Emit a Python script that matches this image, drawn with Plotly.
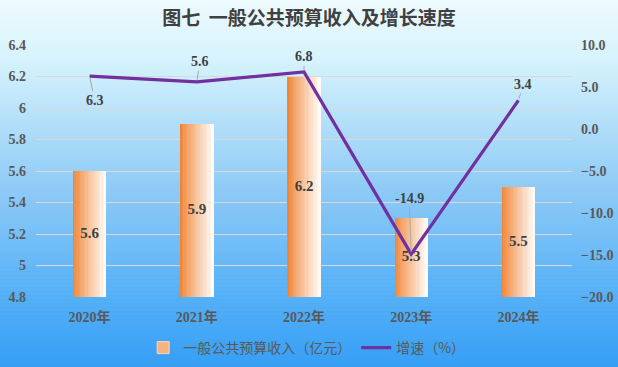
import plotly.graph_objects as go

# ---- data ----
categories = ["2020年", "2021年", "2022年", "2023年", "2024年"]
revenue = [5.6, 5.9, 6.2, 5.3, 5.5]          # 一般公共预算收入（亿元）
growth = [6.3, 5.6, 6.8, -14.9, 3.4]         # 增速（%）
left_ticks = [4.8, 5.0, 5.2, 5.4, 5.6, 5.8, 6.0, 6.2, 6.4]
left_tick_text = ["4.8", "5", "5.2", "5.4", "5.6", "5.8", "6", "6.2", "6.4"]
right_ticks = [-20, -15, -10, -5, 0, 5, 10]
# label offsets (px) for growth labels
label_ax = [5, 3, 0, -2, 5]
label_ay = [24, -20, -15, -56, -16]

W, H = 618, 367
ML, MR, MT, MB = 36, 46, 45, 70
PH = H - MT - MB

fig = go.Figure()

# background vertical gradient via stripes
stops = [(0, (238, 250, 254)), (60, (214, 243, 253)), (190, (142, 202, 246)),
         (300, (84, 176, 247)), (367, (54, 158, 246))]

def bg_color(py):
    for (y0, c0), (y1, c1) in zip(stops[:-1], stops[1:]):
        if y0 <= py <= y1:
            t = (py - y0) / (y1 - y0)
            return "rgb(%d,%d,%d)" % tuple(round(a + (b - a) * t) for a, b in zip(c0, c1))
    return "rgb(%d,%d,%d)" % stops[-1][1]

NS = 92
shapes = []
for i in range(NS):
    py0 = H * i / NS
    py1 = H * (i + 1) / NS + 0.6
    shapes.append(dict(type="rect", xref="paper", yref="paper", layer="below",
                       x0=-ML / (W - ML - MR) - 0.05, x1=1 + MR / (W - ML - MR) + 0.05,
                       y0=(H - MB - py1) / PH, y1=(H - MB - py0) / PH,
                       line=dict(width=0), fillcolor=bg_color((py0 + py1) / 2)))

# bars with horizontal gradient (slices)
BW = 0.31
N = 18
c_left = (240, 134, 56)
c_right = (255, 250, 246)
for k in range(N):
    t = k / (N - 1)
    col = "rgb(%d,%d,%d)" % tuple(round(a + (b - a) * (t ** 0.9)) for a, b in zip(c_left, c_right))
    fig.add_trace(go.Bar(
        x=categories, y=revenue, width=BW / N * 1.08, offset=-BW / 2 + k * BW / N,
        marker=dict(color=col, line=dict(width=0)),
        name="一般公共预算收入（亿元）", showlegend=False, hoverinfo="skip"))

# legend entry for bars
fig.add_trace(go.Bar(x=[None], y=[None], name="一般公共预算收入（亿元）",
                     marker=dict(color="rgb(246,178,128)", line=dict(color="rgb(250,215,190)", width=1)),
                     showlegend=True))

# bar value labels (centered in visible bar)
y_min = left_ticks[0]
fig.add_trace(go.Scatter(
    x=categories, y=[(y_min + v) / 2 for v in revenue], mode="text",
    text=[f"{v:.1f}" for v in revenue],
    textfont=dict(family="Liberation Serif", size=15, color="#404040", weight="bold"),
    showlegend=False, hoverinfo="skip"))

# growth line
fig.add_trace(go.Scatter(
    x=categories, y=growth, yaxis="y2", mode="lines", name="增速（%）",
    line=dict(color="#7030a0", width=3.2)))

for c, g, ax, ay in zip(categories, growth, label_ax, label_ay):
    fig.add_annotation(x=c, y=g, yref="y2", text=f"{g:.1f}", showarrow=True,
                       arrowhead=0, arrowwidth=1, arrowcolor="#a6a6a6",
                       ax=ax, ay=ay, standoff=2,
                       font=dict(family="Liberation Serif", size=14, color="#404040", weight="bold"))

fig.update_layout(
    width=W, height=H,
    margin=dict(l=ML, r=MR, t=MT, b=MB, autoexpand=False),
    paper_bgcolor="rgb(54,158,246)", plot_bgcolor="rgba(0,0,0,0)",
    barmode="overlay", bargap=0,
    shapes=shapes,
    title=dict(text="图七  一般公共预算收入及增长速度", x=0.5, xanchor="center",
               y=1 - 18 / H, yanchor="middle",
               font=dict(family="Noto Sans CJK SC", size=19, color="#404040", weight="bold")),
    xaxis=dict(showgrid=False, zeroline=False, showline=False, ticks="",
               ticklabelstandoff=10, automargin=False,
               tickfont=dict(family="Liberation Serif, Noto Sans CJK SC", size=14,
                             color="#595959", weight="bold")),
    yaxis=dict(range=[4.8, 6.4], tickvals=left_ticks, ticktext=left_tick_text,
               showgrid=True, gridcolor="#d9d9d9", gridwidth=1, zeroline=False,
               showline=False, ticks="", ticklabelstandoff=9, automargin=False,
               tickfont=dict(family="Liberation Serif", size=14, color="#595959", weight="bold")),
    yaxis2=dict(range=[-20, 10], tickvals=right_ticks, tickformat=".1f",
                overlaying="y", side="right", showgrid=False, zeroline=False,
                showline=False, ticks="", ticklabelstandoff=8, automargin=False,
                tickfont=dict(family="Liberation Serif", size=14, color="#595959", weight="bold")),
    legend=dict(orientation="h", x=0.505, xanchor="center", yref="container",
                y=1 - 348 / H, yanchor="middle",
                bgcolor="rgba(0,0,0,0)", itemwidth=30, tracegroupgap=0,
                font=dict(family="Noto Sans CJK SC", size=14, color="#595959")),
)

fig.write_html("out.html", config={"displayModeBar": False},
               post_script="document.body.style.margin='0';document.body.style.overflow='hidden';")
